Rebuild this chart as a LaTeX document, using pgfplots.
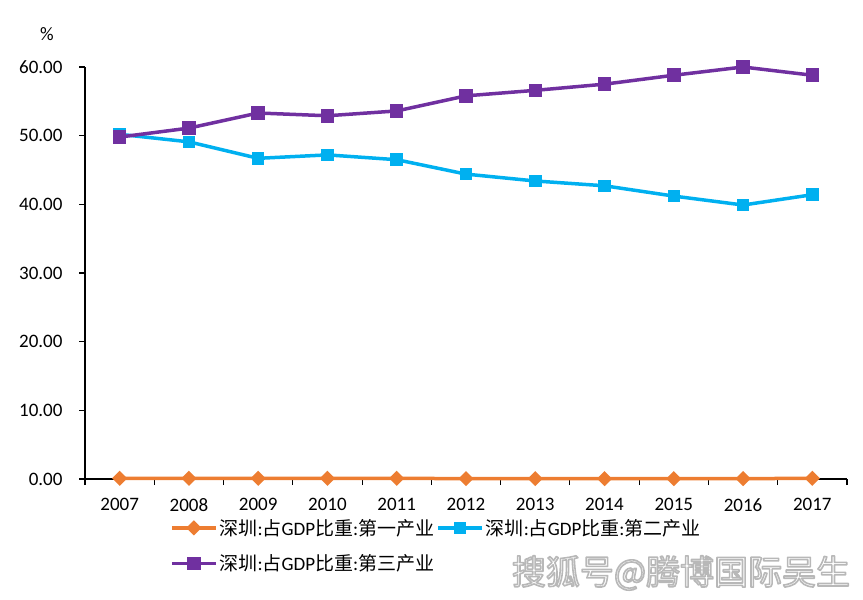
\documentclass[border=0pt]{standalone}
\usepackage{fontspec}
\setmainfont{Carlito}
\newfontfamily\cjk{Noto Sans CJK SC}
\usepackage{pgfplots}
\pgfplotsset{compat=1.18}
\definecolor{c1}{HTML}{ED7D31}
\definecolor{c2}{HTML}{00B0F0}
\definecolor{c3}{HTML}{7030A0}
\newcommand{\fs}{\fontsize{19}{23}\selectfont}
\newcommand{\lbl}[1]{{\cjk 深圳}:{\cjk 占}GDP{\cjk 比重}:{\cjk #1}}
\begin{document}
\begin{tikzpicture}
\path[use as bounding box] (0,0) rectangle (863pt,600pt);
\begin{axis}[
    at={(85pt,121pt)}, anchor=origin,
    scale only axis, width=762pt, height=412pt,
    xmin=2006.5, xmax=2017.5, ymin=0, ymax=60,
    axis x line=bottom, axis y line=left,
    axis line style={-, line width=1.1pt},
    xtick={2007,...,2017}, major x tick style={draw=none},
    minor xtick={2006.5,2007.5,...,2017.5},
    minor tick length=6pt,
    ytick={0,10,...,60}, major tick length=6pt,
    tick align=outside,
    every tick/.style={black, line width=1.1pt},
    xticklabel style={font=\fs, yshift=-10pt},
    yticklabel style={font=\fs, xshift=-13pt},
    x tick label style={/pgf/number format/1000 sep={}},
    y tick label style={/pgf/number format/.cd, fixed, fixed zerofill, precision=2},
    /pgf/number format/assume math mode=true,
    legend style={draw=none, fill=none, font=\fs, at={(0.1115,-0.092)}, anchor=north west,
        legend columns=2, /tikz/every even column/.append style={column sep=0pt},
        row sep=14pt, inner sep=0pt, legend cell align=left},
    legend image code/.code={\draw[mark repeat=2, mark phase=2, #1] plot coordinates {(0pt,0pt) (22pt,0pt) (44pt,0pt)};},
    every axis plot/.append style={line width=3.5pt, mark options={solid}},
    clip=false,
]
\addplot[c1, mark=square*, mark size=3.6pt, mark options={rotate=45}] coordinates {
(2007,0.1) (2008,0.1) (2009,0.1) (2010,0.1) (2011,0.1) (2012,0.05) (2013,0.05) (2014,0.05) (2015,0.05) (2016,0.05) (2017,0.1)};
\addlegendentry{\lbl{第一产业}}
\addplot[c2, mark=square*, mark size=4.5pt] coordinates {
(2007,50.2) (2008,49.1) (2009,46.7) (2010,47.2) (2011,46.5) (2012,44.4) (2013,43.4) (2014,42.7) (2015,41.2) (2016,39.9) (2017,41.4)};
\addlegendentry{\lbl{第二产业}}
\addplot[c3, mark=square*, mark size=5pt] coordinates {
(2007,49.8) (2008,51.1) (2009,53.3) (2010,52.9) (2011,53.6) (2012,55.8) (2013,56.6) (2014,57.5) (2015,58.8) (2016,60.0) (2017,58.8)};
\addlegendentry{\lbl{第三产业}}
\end{axis}
\node[font=\fs] at (47pt,566pt) {\%};
% watermark: white fill with a grey outline (text render mode 2)
\node[font=\fontsize{34}{40}\selectfont\cjk, text=white] at (681pt,27pt)
  {\special{pdf:literal direct 0.72 G 1.6 w 1 j 2 Tr}搜狐号@腾博国际吴生\special{pdf:literal direct 0 Tr}};
\end{tikzpicture}
\end{document}
